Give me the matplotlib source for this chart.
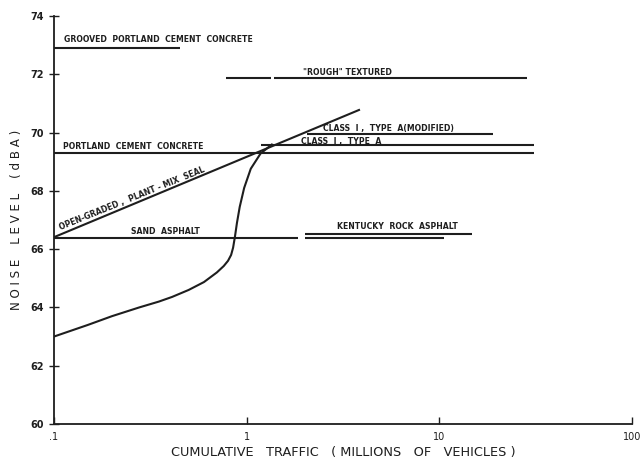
import matplotlib
matplotlib.use("Agg")
import matplotlib.pyplot as plt
import numpy as np

# horizontal surface levels (x start, x end, dBA)
grooved_pcc = ([0.1, 0.45], [72.9, 72.9])
rough_a = ([0.78, 1.33], [71.88, 71.88])
rough_b = ([1.38, 28.5], [71.88, 71.88])
pcc = ([0.1, 31.0], [69.29, 69.29])
class1_a = ([1.18, 31.0], [69.57, 69.57])
class1_mod = ([2.05, 19.0], [69.96, 69.96])
sand_a = ([0.1, 1.85], [66.38, 66.38])
sand_b = ([2.0, 10.5], [66.38, 66.38])
kentucky = ([2.0, 14.8], [66.52, 66.52])
open_graded = ([0.1, 3.87], [66.41, 70.79])

# cumulative traffic curve
curve_x = [0.1, 0.15, 0.2, 0.277, 0.35, 0.41, 0.5, 0.6, 0.7, 0.76, 0.80,
           0.83, 0.85, 0.87, 0.89, 0.92, 0.97, 1.05, 1.18, 1.35]
curve_y = [63.0, 63.4, 63.7, 64.0, 64.2, 64.36, 64.6, 64.87, 65.2, 65.42, 65.6,
           65.8, 66.05, 66.45, 66.9, 67.45, 68.1, 68.76, 69.28, 69.59]

yticks = [60, 62, 64, 66, 68, 70, 72, 74]
xticks = [0.1, 1, 10, 100]
xticklabels = [".1", "1", "10", "100"]

ink = "#1e1e1e"
fig = plt.figure(figsize=(6.41, 4.62), dpi=100)
ax = fig.add_axes([0.0842, 0.0823, 0.902, 0.883])
ax.set_xscale("log")
ax.set_xlim(0.1, 100)
ax.set_ylim(60, 74)

for seg in [grooved_pcc, rough_a, rough_b, pcc, class1_a, class1_mod,
            sand_a, sand_b, kentucky, open_graded]:
    ax.plot(seg[0], seg[1], color=ink, lw=1.5, solid_capstyle="butt")
ax.plot(curve_x, curve_y, color=ink, lw=1.5)

lab = dict(fontsize=5.6, fontweight="bold", color=ink)
ax.text(0.113, 73.12, "GROOVED  PORTLAND  CEMENT  CONCRETE", **lab)
ax.text(1.95, 71.98, "\"ROUGH\" TEXTURED", **lab)
ax.text(0.112, 69.44, "PORTLAND  CEMENT  CONCRETE", **lab)
ax.text(2.5, 70.05, "CLASS  I ,  TYPE  A(MODIFIED)", **lab)
ax.text(1.92, 69.62, "CLASS  I ,  TYPE  A", **lab)
ax.text(0.25, 66.52, "SAND  ASPHALT", **lab)
ax.text(2.95, 66.7, "KENTUCKY  ROCK  ASPHALT", **lab)
ax.text(0.108, 66.65, "OPEN-GRADED ,  PLANT - MIX  SEAL", rotation=22,
        rotation_mode="anchor", **lab)

ax.spines["top"].set_visible(False)
ax.spines["right"].set_visible(False)
for s in ["left", "bottom"]:
    ax.spines[s].set_color(ink)
    ax.spines[s].set_linewidth(1.3)

ax.set_yticks(yticks)
ax.set_yticklabels([str(v) for v in yticks], fontsize=7, fontweight="bold", color=ink)
ax.tick_params(axis="y", direction="inout", length=7, width=1, color=ink, pad=4)
ax.set_xticks(xticks)
ax.set_xticklabels(xticklabels, fontsize=7, color=ink)
ax.xaxis.set_minor_locator(matplotlib.ticker.NullLocator())
ax.tick_params(axis="x", direction="in", length=5, width=1, color=ink, pad=6)

ax.set_xlabel("CUMULATIVE   TRAFFIC   ( MILLIONS   OF   VEHICLES )", fontsize=9.3,
              color=ink, labelpad=3)
ax.set_ylabel("N O I S E    L E V E L    ( d B A )", fontsize=8.6, color=ink, labelpad=5)

fig.savefig("out.png", dpi=100)
